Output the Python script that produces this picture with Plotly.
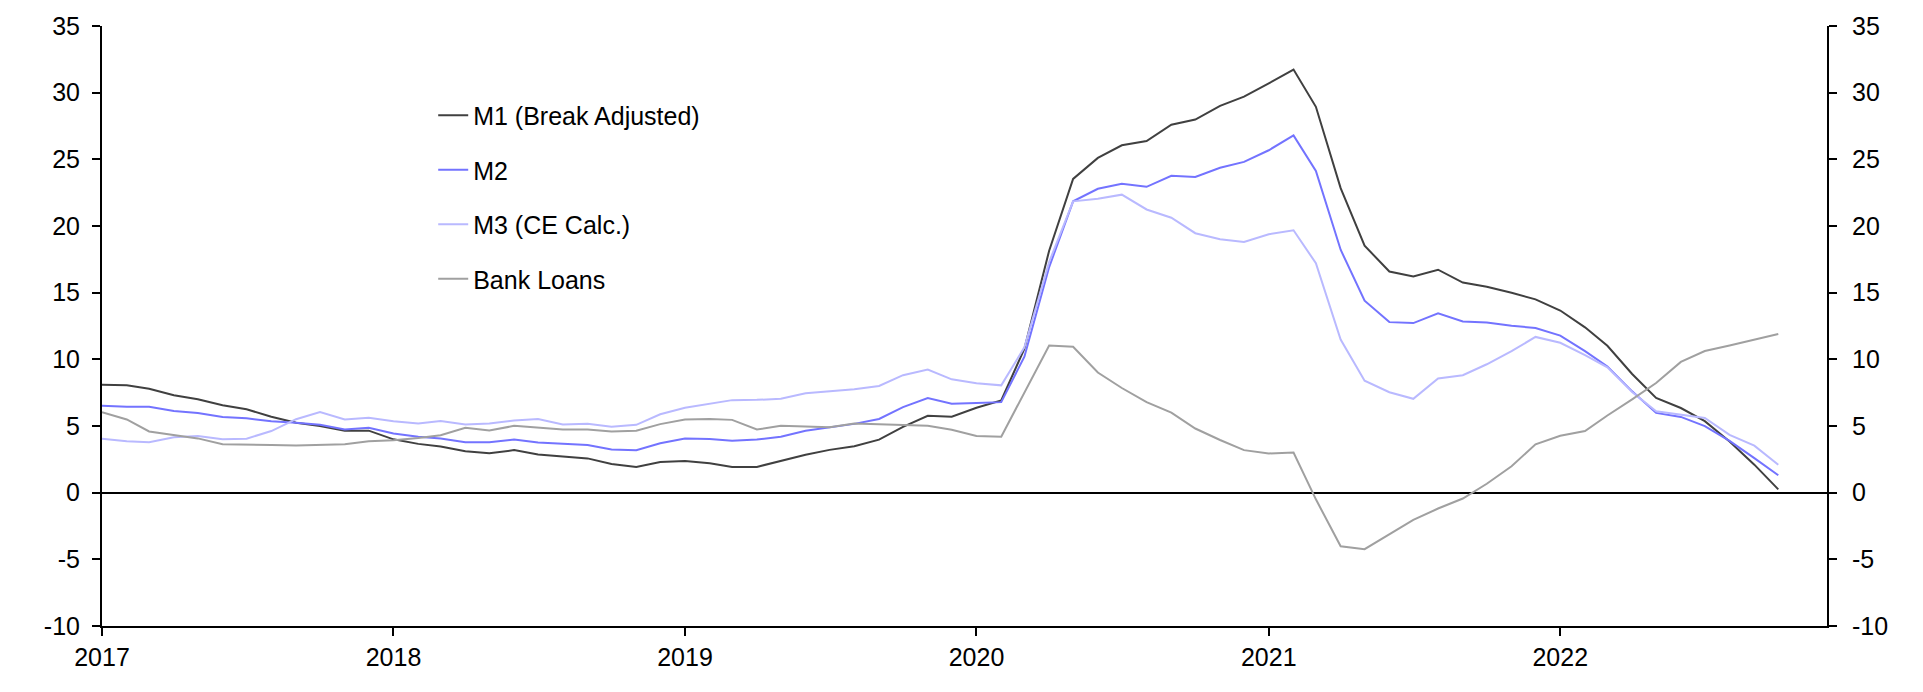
import pandas as pd
import plotly.graph_objects as go

# Monthly, Jan 2017 - Oct 2022, % y/y
dates = pd.date_range("2017-01-01", periods=70, freq="MS")

m1 = [
    8.1, 8.05, 7.8, 7.3, 7.0, 6.55, 6.25, 5.7, 5.25, 5.0, 4.65, 4.65,
    4.0, 3.66, 3.46, 3.11, 2.96, 3.19, 2.87, 2.72, 2.57, 2.15, 1.93, 2.3,
    2.37, 2.2, 1.93, 1.93, 2.4, 2.84, 3.21, 3.48, 3.98, 4.94, 5.76, 5.7,
    6.37, 6.92, 10.8, 18.15, 23.53, 25.11, 26.05, 26.37, 27.6, 27.98, 29.01, 29.7,
    30.7, 31.73, 28.94, 22.84, 18.52, 16.59, 16.22, 16.72, 15.76, 15.44, 14.99, 14.5,
    13.66, 12.4, 11.02, 8.9, 7.11, 6.35, 5.36, 3.83, 2.1, 0.25,
]
m2 = [
    6.52, 6.44, 6.44, 6.12, 5.98, 5.68, 5.58, 5.36, 5.24, 5.09, 4.74, 4.87,
    4.44, 4.2, 4.07, 3.78, 3.78, 3.98, 3.76, 3.66, 3.58, 3.24, 3.19, 3.7,
    4.07, 4.03, 3.9, 3.98, 4.2, 4.64, 4.92, 5.16, 5.53, 6.42, 7.09, 6.67,
    6.72, 6.79, 10.2, 16.92, 21.85, 22.79, 23.16, 22.94, 23.76, 23.68, 24.37, 24.81,
    25.68, 26.79, 24.13, 18.22, 14.4, 12.79, 12.72, 13.46, 12.84, 12.77, 12.52, 12.35,
    11.78, 10.62, 9.47, 7.6, 5.98, 5.68, 4.99, 3.88, 2.59, 1.31,
]
m3 = [
    4.05, 3.85, 3.78, 4.15, 4.25, 4.0, 4.05, 4.62, 5.51, 6.05, 5.49, 5.61,
    5.36, 5.19, 5.38, 5.11, 5.19, 5.41, 5.53, 5.11, 5.16, 4.94, 5.09, 5.88,
    6.37, 6.68, 6.94, 6.96, 7.04, 7.46, 7.63, 7.76, 8.0, 8.81, 9.24, 8.5,
    8.2, 8.05, 10.9, 17.3, 21.85, 22.05, 22.35, 21.24, 20.62, 19.46, 19.01, 18.81,
    19.38, 19.68, 17.21, 11.48, 8.4, 7.53, 7.04, 8.57, 8.81, 9.63, 10.62, 11.68,
    11.24, 10.32, 9.4, 7.55, 6.1, 5.85, 5.6, 4.33, 3.53, 2.1,
]
bank_loans = [
    6.03, 5.49, 4.59, 4.35, 4.07, 3.63, 3.63, 3.58, 3.53, 3.58, 3.63, 3.85,
    3.93, 4.1, 4.3, 4.87, 4.67, 5.01, 4.9, 4.74, 4.74, 4.59, 4.64, 5.14,
    5.48, 5.53, 5.46, 4.74, 5.01, 4.94, 4.9, 5.19, 5.11, 5.04, 5.01, 4.72,
    4.25, 4.2, 7.53, 11.04, 10.94, 9.01, 7.85, 6.79, 6.0, 4.81, 3.95, 3.19,
    2.94, 3.01, -0.5, -4.02, -4.24, -3.13, -2.04, -1.19, -0.44, 0.67, 1.98, 3.63,
    4.27, 4.62, 5.79, 7.0, 8.22, 9.81, 10.62, 11.04, 11.48, 11.9,
]

y_ticks = [-10, -5, 0, 5, 10, 15, 20, 25, 30, 35]
y_labels = [str(v) for v in y_ticks]  # plain hyphen, not unicode minus

series = [
    ("M1 (Break Adjusted)", m1, "#404040"),
    ("M2", m2, "#7373ff"),
    ("M3 (CE Calc.)", m3, "#b9b9ff"),
    ("Bank Loans", bank_loans, "#a0a0a0"),
]

fig = go.Figure()
for name, vals, color in series:
    fig.add_trace(go.Scatter(x=dates, y=vals, name=name, mode="lines",
                             legendgroup=name,
                             line=dict(color=color, width=2)))

# invisible copy so the right-hand axis gets drawn
fig.add_trace(go.Scatter(x=dates, y=bank_loans, yaxis="y2", mode="lines",
                         line=dict(width=0), showlegend=False, hoverinfo="skip"))

font = dict(family="Liberation Sans, Arial, sans-serif", size=25, color="black")
yax = dict(range=[-10, 35], tickvals=y_ticks, ticktext=y_labels,
           showgrid=False, showline=True,
           linecolor="black", linewidth=2, ticks="outside", ticklen=8,
           tickwidth=2, tickcolor="black", tickfont=font)

fig.update_layout(
    width=1923, height=692,
    margin=dict(l=102, r=96, t=20, b=66),
    plot_bgcolor="white", paper_bgcolor="white",
    font=font,
    showlegend=True,
    legend=dict(x=0.192, y=0.889, xanchor="left", yanchor="top",
                bgcolor="rgba(0,0,0,0)", font=font,
                traceorder="grouped", tracegroupgap=19),
    xaxis=dict(range=["2017-01-01", "2022-12-01"], dtick="M12",
               tick0="2017-01-01", tickformat="%Y", showgrid=False,
               showline=True, linecolor="black", linewidth=2,
               ticks="outside", ticklen=8, tickwidth=2, tickcolor="black",
               tickfont=font, zeroline=False),
    yaxis=dict(**yax, side="left", zeroline=True, zerolinecolor="black",
               zerolinewidth=2, ticklabelstandoff=7),
    yaxis2=dict(**yax, side="right", overlaying="y", zeroline=False,
                ticklabelstandoff=10),
)

# drop the default body margin so the figure sits flush in the window
fig.write_html("out.html", config={"displayModeBar": False},
               post_script="document.body.style.margin='0';")
